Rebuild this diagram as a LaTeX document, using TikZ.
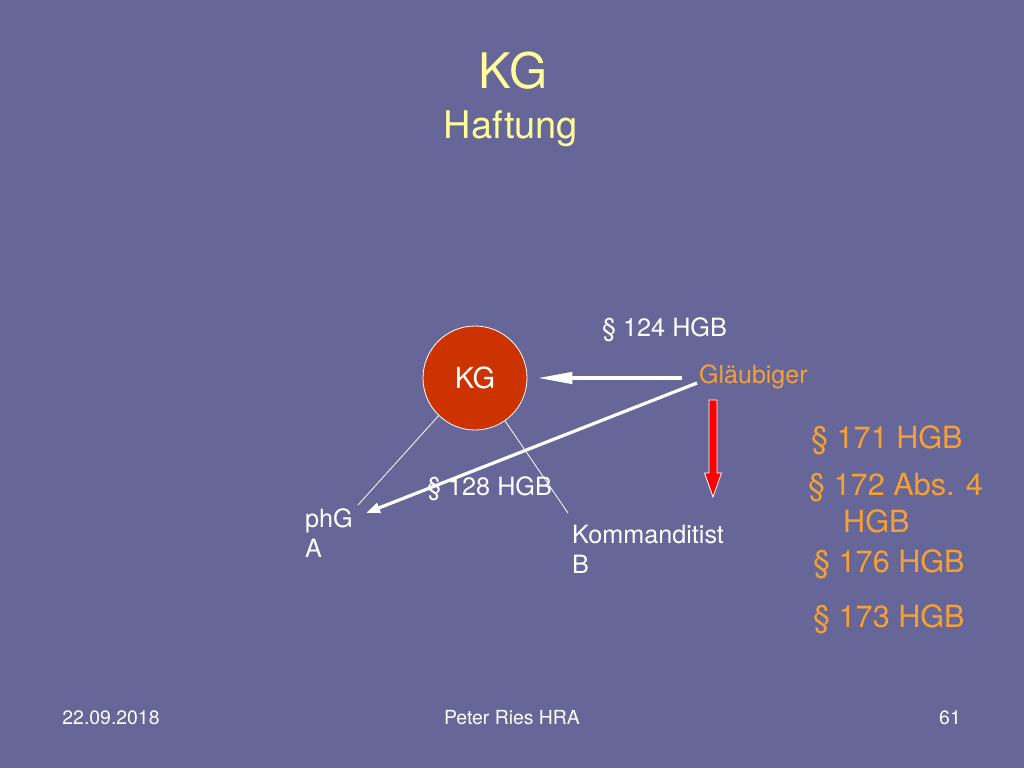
\documentclass[tikz,border=0pt]{standalone}
\usepackage{fontspec}
\setmainfont{TeX Gyre Heros}
\usetikzlibrary{arrows.meta}
\definecolor{bg}{HTML}{666699}
\definecolor{titley}{HTML}{FFFF99}
\definecolor{orng}{HTML}{F5A033}
\definecolor{kgred}{HTML}{CC3300}
\tikzset{
  lbl/.style={anchor=base west, inner sep=0pt, text=white, font=\fontsize{25.2}{29}\selectfont},
  olbl/.style={anchor=base west, inner sep=0pt, text=orng, font=\fontsize{30.6}{35}\selectfont},
  foot/.style={anchor=base, inner sep=0pt, text=white, font=\fontsize{19.4}{22}\selectfont},
  ttl/.style={anchor=base, inner sep=0pt, text=titley},
  thinline/.style={draw=white, line width=0.8pt},
  whitearrow/.style={draw=white, line width=4.5pt, -{Triangle[length=36pt,width=11pt]}},
  obliquearrow/.style={draw=white, line width=3.2pt, -{Triangle[length=14pt,width=10pt]}},
}
\begin{document}
\begin{tikzpicture}[x=1pt,y=-1pt]
\fill[bg] (0,0) rectangle (1024,768);
\useasboundingbox (0,0) rectangle (1024,768);

% title
\node[ttl, font=\fontsize{49}{54}\selectfont] (t1) at (513,88) {KG};
\node[ttl, font=\fontsize{38}{44}\selectfont] (t2) at (511,138) {Haftung};

% KG circle
\node[circle, fill=kgred, draw=white, line width=0.8pt, minimum size=104pt, inner sep=0pt,
      text=white, font=\fontsize{29}{33}\selectfont] (kg) at (475,378) {KG};

% labels
\node[lbl] (p124) at (602,336) {§ 124 HGB};
\node[lbl, text=orng, font=\fontsize{25}{29}\selectfont] (gl) at (699,383) {Gläubiger};
\node[lbl] (p128) at (427,495) {§ 128 HGB};
\node[lbl] (phg) at (305,527) {phG};
\node[lbl] (phga) at (305,557) {A};
\node[lbl] (komm) at (572,543) {Kommanditist};
\node[lbl] (kommb) at (572,573) {B};

% right column
\node[olbl] (p171) at (811,448) {§ 171 HGB};
\node[olbl] (p172) at (808,495) {§ 172 Abs. 4};
\node[olbl] (p172b) at (843,532) {HGB};
\node[olbl] (p176) at (813,572) {§ 176 HGB};
\node[olbl] (p173) at (813,627) {§ 173 HGB};

% footer
\node[foot] (date) at (111,724) {22.09.2018};
\node[foot] (auth) at (512,724) {Peter Ries HRA};
\node[foot] (page) at (950,724) {61};

% connectors
\coordinate (phgend) at (358,505);
\coordinate (kommend) at (568,513);
\coordinate (phgtip) at (366,513);
\coordinate (glstart) at (697,383);
\draw[thinline] (kg.226) -- (phgend);
\draw[thinline] (kg.305) -- (kommend);
\draw[whitearrow, shorten <=17pt, shorten >=9pt] (gl.west |- kg.east) -- (kg.east);
\draw[obliquearrow] (glstart) -- (phgtip);

% red arrow
\draw[fill=red, draw=white, line width=0.8pt]
  (709,400) -- (717,400) -- (717,473) -- (721.5,473) -- (713,497)
  -- (704.5,473) -- (709,473) -- cycle;
\end{tikzpicture}
\end{document}
